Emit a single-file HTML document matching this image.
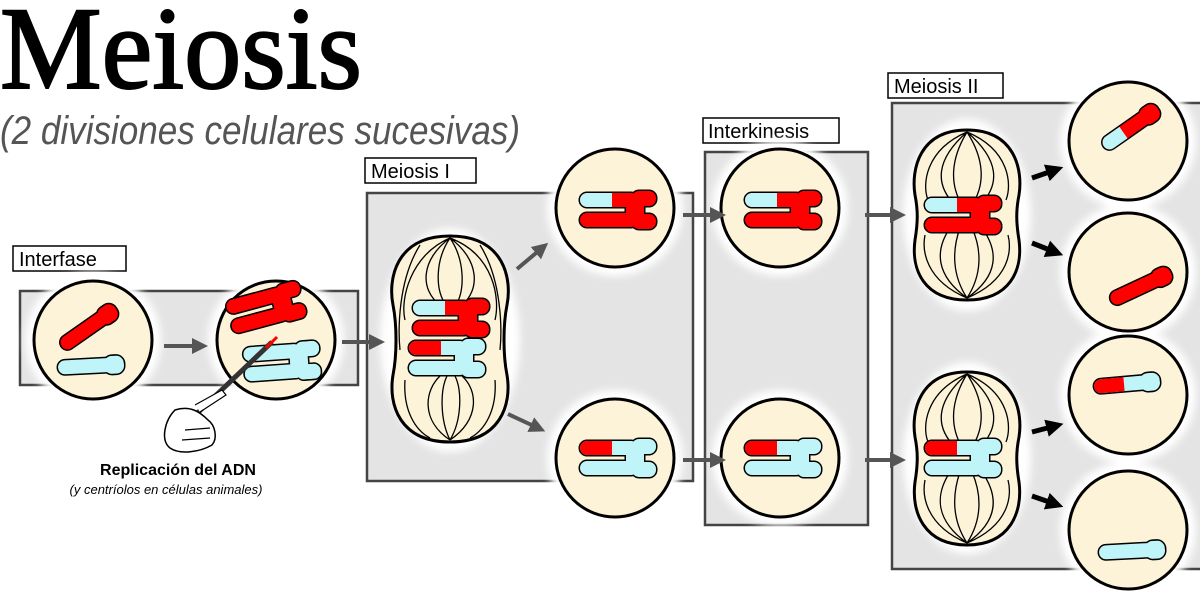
<!DOCTYPE html>
<html><head><meta charset="utf-8"><style>html,body{margin:0;padding:0;background:#fff}svg{display:block}</style></head><body>
<svg width="1200" height="604" viewBox="0 0 1200 604" xmlns="http://www.w3.org/2000/svg" font-family="Liberation Sans, sans-serif">
<defs>
<g id="xs">
<rect x="-38" y="-17" width="58" height="14" rx="7"/>
<rect x="-38" y="3" width="58" height="14" rx="7"/>
<rect x="14" y="-19" width="24" height="15" rx="7"/>
<rect x="14" y="4" width="24" height="15" rx="7"/>
<rect x="8" y="-9" width="18" height="18" rx="3"/>
</g>
<clipPath id="xclip">
<rect x="-38" y="-17" width="58" height="14" rx="7"/>
<rect x="-38" y="3" width="58" height="14" rx="7"/>
<rect x="14" y="-19" width="24" height="15" rx="7"/>
<rect x="14" y="4" width="24" height="15" rx="7"/>
<rect x="8" y="-9" width="18" height="18" rx="3"/>
</clipPath>
<g id="bs">
<rect x="-32" y="-7" width="58" height="14" rx="7"/>
<rect x="14" y="-9" width="20" height="18" rx="8"/>
</g>
<clipPath id="bclip">
<rect x="-32" y="-7" width="58" height="14" rx="7"/>
<rect x="14" y="-9" width="20" height="18" rx="8"/>
</clipPath>
<filter id="glow" x="-30%" y="-30%" width="160%" height="160%"><feGaussianBlur stdDeviation="4"/></filter>
<marker id="ag" viewBox="0 0 10 10" refX="5" refY="5" markerWidth="4" markerHeight="4" orient="auto"><path d="M0 0L10 5L0 10z" fill="#555"/></marker>
<marker id="ab" viewBox="0 0 10 10" refX="5" refY="5" markerWidth="3.5" markerHeight="3.5" orient="auto"><path d="M0 0L10 5L0 10z" fill="#000"/></marker>
</defs>

<text x="0" y="88" font-family="Liberation Serif, serif" font-size="118" stroke="#000" stroke-width="2" textLength="362" lengthAdjust="spacingAndGlyphs">Meiosis</text>
<text x="0" y="144" font-family="Liberation Sans, sans-serif" font-style="italic" font-size="40" fill="#555" textLength="520" lengthAdjust="spacingAndGlyphs">(2 divisiones celulares sucesivas)</text>

<g fill="#e4e4e4" stroke="#444" stroke-width="2.5">
<rect x="20" y="291" width="338" height="94"/>
<rect x="367" y="193" width="326" height="288"/>
<rect x="705" y="152" width="163" height="373"/>
<rect x="892" y="103" width="310" height="466"/>
</g>
<g font-size="20">
<rect x="13" y="246" width="113" height="25" fill="#fff" stroke="#000" stroke-width="1.5"/><text x="19" y="266">Interfase</text>
<rect x="365" y="158" width="111" height="25" fill="#fff" stroke="#000" stroke-width="1.5"/><text x="371" y="178">Meiosis I</text>
<rect x="703" y="118" width="136" height="25" fill="#fff" stroke="#000" stroke-width="1.5"/><text x="708" y="138">Interkinesis</text>
<rect x="888" y="73" width="115" height="25" fill="#fff" stroke="#000" stroke-width="1.5"/><text x="894" y="93">Meiosis II</text>
</g>

<g fill="#fff" filter="url(#glow)">
<circle cx="93" cy="340" r="68"/><circle cx="276" cy="340" r="68"/>
<ellipse cx="450" cy="340" rx="70" ry="112"/>
<circle cx="615" cy="208" r="68"/><circle cx="615" cy="458" r="68"/>
<circle cx="780" cy="208" r="68"/><circle cx="780" cy="458" r="68"/>
<ellipse cx="967" cy="215" rx="64" ry="96"/><ellipse cx="967" cy="458" rx="64" ry="96"/>
<circle cx="1128" cy="141" r="68"/><circle cx="1128" cy="272" r="68"/><circle cx="1128" cy="395" r="68"/><circle cx="1128" cy="530" r="68"/>
</g>

<g fill="#fdf3d8" stroke="#000" stroke-width="3">
<circle cx="93" cy="340" r="59"/><circle cx="276" cy="340" r="59"/>
<circle cx="615" cy="208" r="59"/><circle cx="615" cy="458" r="59"/>
<circle cx="780" cy="208" r="59"/><circle cx="780" cy="458" r="59"/>
<circle cx="1128" cy="141" r="59"/><circle cx="1128" cy="272" r="59"/><circle cx="1128" cy="395" r="59"/><circle cx="1128" cy="530" r="59"/>
<path d="M450 236 C505 236 512 280 507 305 C503 325 503 355 507 375 C512 405 500 442 450 442 C400 442 388 405 393 375 C397 355 397 325 393 305 C388 280 395 236 450 236Z"/>
<path d="M967 130 C1015 130 1023 170 1019 195 C1016 210 1016 222 1019 240 C1023 270 1010 300 967 300 C924 300 911 270 915 240 C918 222 918 210 915 195 C911 170 919 130 967 130Z"/>
<path d="M967 372 C1015 372 1023 412 1019 437 C1016 452 1016 464 1019 482 C1023 512 1010 545 967 545 C924 545 911 512 915 482 C918 464 918 452 915 437 C911 412 919 372 967 372Z"/>
</g>

<g fill="none" stroke="#000" stroke-width="1.3">
<path d="M450 238 C420 260 420 290 440 305M450 238 C435 260 435 290 446 305M450 238 C465 260 465 290 456 305M450 238 C480 260 480 290 462 305M450 238 C410 255 400 300 405 320M450 238 C495 255 500 300 495 320"/>
<path d="M450 440 C420 420 425 390 440 376M450 440 C440 420 440 390 447 376M450 440 C462 420 462 390 455 376M450 440 C480 420 478 390 462 376"/>
<path d="M420 245 C398 280 398 330 400 350M480 245 C502 280 502 330 500 350M405 380 C403 410 415 430 430 438M495 380 C497 410 485 430 470 438"/>
<path d="M967 132 C935 160 935 185 955 205M967 132 C950 160 950 185 962 205M967 132 C985 160 985 185 972 205M967 132 C1000 160 1000 185 980 205M967 132 C925 150 922 185 928 200M967 132 C1010 150 1012 185 1006 200M967 298 C935 275 935 250 950 228M967 298 C952 275 952 250 960 228M967 298 C982 275 982 250 972 228M967 298 C1000 275 998 250 982 228M967 298 C925 280 922 250 925 235M967 298 C1010 280 1012 250 1008 235"/>
<path d="M967 374 C935 402 935 427 955 447M967 374 C950 402 950 427 962 447M967 374 C985 402 985 427 972 447M967 374 C1000 402 1000 427 980 447M967 374 C925 392 922 427 928 442M967 374 C1010 392 1012 427 1006 442M967 543 C935 520 935 495 950 472M967 543 C952 520 952 495 960 472M967 543 C982 520 982 495 972 472M967 543 C1000 520 998 495 982 472M967 543 C925 525 922 495 925 480M967 543 C1010 525 1012 495 1008 480"/>
</g>

<g transform="translate(88,328) rotate(-35)"><use href="#bs" fill="#000" stroke="#000" stroke-width="3"/><rect x="-40" y="-12" width="80" height="24" fill="#f00" clip-path="url(#bclip)"/></g>
<g transform="translate(90,366) rotate(-3)"><use href="#bs" fill="#000" stroke="#000" stroke-width="3"/><rect x="-40" y="-12" width="80" height="24" fill="#bff4f8" clip-path="url(#bclip)"/></g>
<g transform="translate(1130,128) rotate(-35)"><use href="#bs" fill="#000" stroke="#000" stroke-width="3"/><g clip-path="url(#bclip)"><rect x="-40" y="-12" width="80" height="24" fill="#f00"/><rect x="-40" y="-12" width="32" height="24" fill="#bff4f8"/></g></g>
<g transform="translate(1140,287) rotate(-25)"><use href="#bs" fill="#000" stroke="#000" stroke-width="3"/><rect x="-40" y="-12" width="80" height="24" fill="#f00" clip-path="url(#bclip)"/></g>
<g transform="translate(1126,384) rotate(-5)"><use href="#bs" fill="#000" stroke="#000" stroke-width="3"/><g clip-path="url(#bclip)"><rect x="-40" y="-12" width="80" height="24" fill="#bff4f8"/><rect x="-40" y="-12" width="38" height="24" fill="#f00"/></g></g>
<g transform="translate(1131,551) rotate(-3)"><use href="#bs" fill="#000" stroke="#000" stroke-width="3"/><rect x="-40" y="-12" width="80" height="24" fill="#bff4f8" clip-path="url(#bclip)"/></g>

<g transform="translate(266,308) rotate(-15)"><use href="#xs" fill="#000" stroke="#000" stroke-width="3"/><rect x="-45" y="-25" width="90" height="50" fill="#f00" clip-path="url(#xclip)"/></g>
<g transform="translate(282,362) rotate(-4)"><use href="#xs" fill="#000" stroke="#000" stroke-width="3"/><rect x="-45" y="-25" width="90" height="50" fill="#bff4f8" clip-path="url(#xclip)"/></g>

<g transform="translate(451,318)"><use href="#xs" fill="#000" stroke="#000" stroke-width="3"/><g clip-path="url(#xclip)"><rect x="-45" y="-25" width="90" height="50" fill="#f00"/><rect x="-45" y="-25" width="39" height="24" fill="#bff4f8"/></g></g>
<g transform="translate(447,358)"><use href="#xs" fill="#000" stroke="#000" stroke-width="3"/><g clip-path="url(#xclip)"><rect x="-45" y="-25" width="90" height="50" fill="#bff4f8"/><rect x="-45" y="-25" width="39" height="24" fill="#f00"/></g></g>

<g transform="translate(618,210)"><use href="#xs" fill="#000" stroke="#000" stroke-width="3"/><g clip-path="url(#xclip)"><rect x="-45" y="-25" width="90" height="50" fill="#f00"/><rect x="-45" y="-25" width="39" height="24" fill="#bff4f8"/></g></g>
<g transform="translate(618,458)"><use href="#xs" fill="#000" stroke="#000" stroke-width="3"/><g clip-path="url(#xclip)"><rect x="-45" y="-25" width="90" height="50" fill="#bff4f8"/><rect x="-45" y="-25" width="39" height="24" fill="#f00"/></g></g>
<g transform="translate(783,210)"><use href="#xs" fill="#000" stroke="#000" stroke-width="3"/><g clip-path="url(#xclip)"><rect x="-45" y="-25" width="90" height="50" fill="#f00"/><rect x="-45" y="-25" width="39" height="24" fill="#bff4f8"/></g></g>
<g transform="translate(783,458)"><use href="#xs" fill="#000" stroke="#000" stroke-width="3"/><g clip-path="url(#xclip)"><rect x="-45" y="-25" width="90" height="50" fill="#bff4f8"/><rect x="-45" y="-25" width="39" height="24" fill="#f00"/></g></g>
<g transform="translate(963,215)"><use href="#xs" fill="#000" stroke="#000" stroke-width="3"/><g clip-path="url(#xclip)"><rect x="-45" y="-25" width="90" height="50" fill="#f00"/><rect x="-45" y="-25" width="39" height="24" fill="#bff4f8"/></g></g>
<g transform="translate(963,458)"><use href="#xs" fill="#000" stroke="#000" stroke-width="3"/><g clip-path="url(#xclip)"><rect x="-45" y="-25" width="90" height="50" fill="#bff4f8"/><rect x="-45" y="-25" width="39" height="24" fill="#f00"/></g></g>

<line x1="190" y1="420" x2="272" y2="342" stroke="#333" stroke-width="5"/>
<line x1="266" y1="348" x2="277" y2="337" stroke="#f00" stroke-width="3"/>
<path d="M175 410 C165 420 160 440 170 448 C180 455 200 452 212 445 C218 438 215 425 208 420 C200 412 190 405 175 410Z" fill="#fff" stroke="#000" stroke-width="1.5"/>
<path d="M185 430 L210 428 M182 440 L210 438 M195 405 L222 390 L226 395 L200 412" fill="#fff" stroke="#000" stroke-width="1.2"/>
<text x="178" y="475" text-anchor="middle" font-size="16" font-weight="bold">Replicación del ADN</text>
<text x="166" y="494" text-anchor="middle" font-size="13" font-style="italic">(y centríolos en células animales)</text>

<g stroke="#555" stroke-width="4" marker-end="url(#ag)" fill="none">
<line x1="164" y1="346" x2="200" y2="346"/>
<line x1="342" y1="342" x2="377" y2="342"/>
<line x1="517" y1="269" x2="542" y2="248"/>
<line x1="508" y1="414" x2="538" y2="428"/>
<line x1="683" y1="215" x2="718" y2="215"/>
<line x1="683" y1="460" x2="718" y2="460"/>
<line x1="865" y1="215" x2="898" y2="215"/>
<line x1="865" y1="460" x2="898" y2="460"/>
</g>
<g stroke="#000" stroke-width="5" marker-end="url(#ab)" fill="none">
<line x1="1032" y1="178" x2="1055" y2="170"/>
<line x1="1032" y1="243" x2="1055" y2="252"/>
<line x1="1032" y1="432" x2="1055" y2="426"/>
<line x1="1032" y1="496" x2="1055" y2="504"/>
</g>
</svg>
</body></html>
